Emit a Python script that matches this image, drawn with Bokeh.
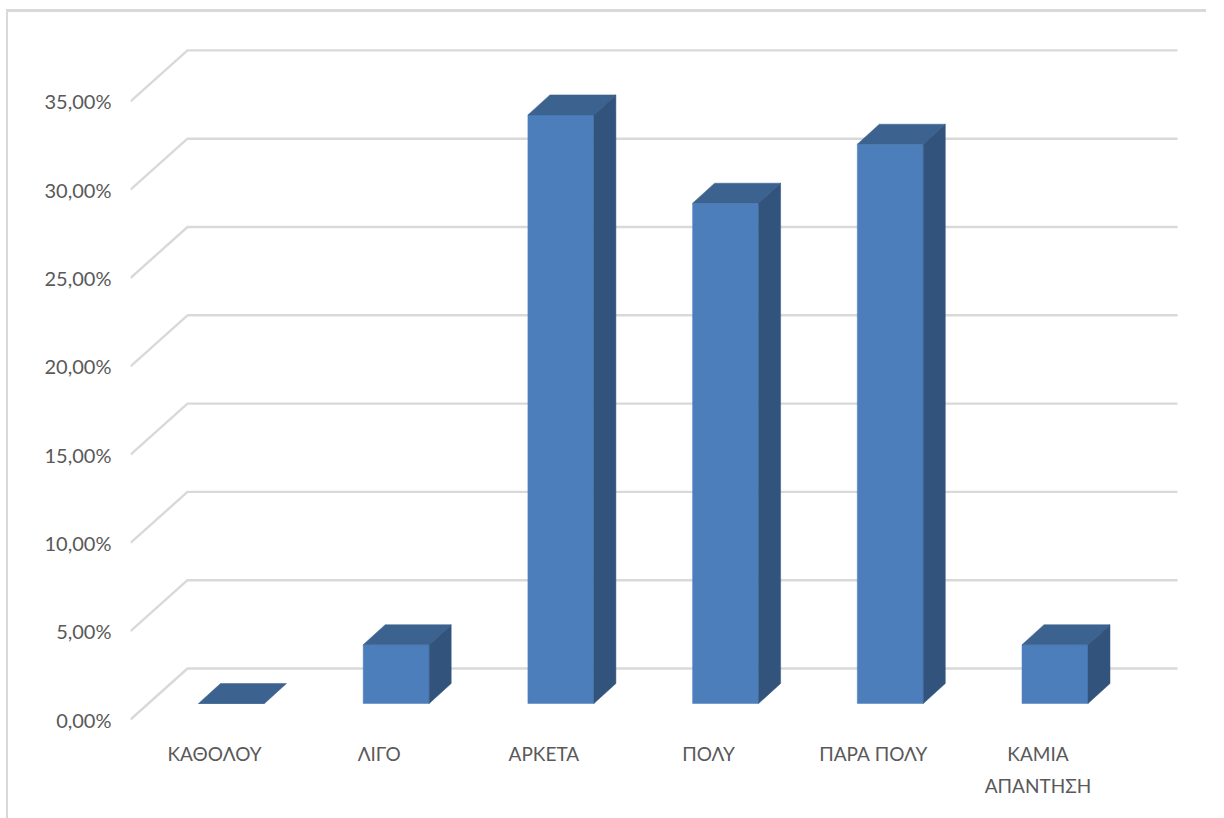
from bokeh.embed import file_html
from bokeh.resources import INLINE
from bokeh.models import Range1d, FixedTicker
from bokeh.plotting import figure

categories = ["ΚΑΘΟΛΟΥ", "ΛΙΓΟ", "ΑΡΚΕΤΑ", "ΠΟΛΎ", "ΠΑΡΑ ΠΟΛΎ", "ΚΑΜΙΑ\nΑΠΑΝΤΗΣΗ"]
values = [0.0, 3.33, 33.33, 28.33, 31.67, 3.33]
y_ticks = [0, 5, 10, 15, 20, 25, 30, 35]
y_labels = ["0,00%", "5,00%", "10,00%", "15,00%", "20,00%", "25,00%", "30,00%", "35,00%"]

GRID = "#d9d9d9"
TEXT = "#595959"
FRONT = "#4d7ebc"
TOP = "#3c628f"
SIDE = "#32547c"
FONT = "Lato"

PX_Y = 17.66   # pixels per percentage point
PX_X = 164.7   # pixels per category


p = figure(
    width=1200, height=790, output_backend="svg", toolbar_location=None,
    x_range=Range1d((130 - 214) / PX_X, (1208 - 214) / PX_X),
    y_range=Range1d((719 - 725) / PX_Y, (719 - 12) / PX_Y),
    min_border_left=122, min_border_right=0, min_border_top=0, min_border_bottom=77,
    outline_line_color=None, border_fill_color="white", background_fill_color="white",
    styles={
        "margin-top": "12px",
        "margin-left": "8px",
        "box-shadow": f"0 16px 0 0 white, -2px 16px 0 0 {GRID}, -2px -3px 0 0 {GRID}",
    },
)
p.grid.visible = False

# 3-D wall grid: a diagonal on the floor side and a horizontal on the back wall
wall_dy = (719 - 668) / PX_Y
front_x = (130 - 214) / PX_X
back_x = (187 - 214) / PX_X
end_x = (1177 - 214) / PX_X
p.multi_line(
    xs=[[front_x, back_x, end_x] for _ in y_ticks],
    ys=[[v, v + wall_dy, v + wall_dy] for v in y_ticks],
    line_color=GRID, line_width=2.4,
)

# bars
bar_w = 66 / PX_X
off = 17 / PX_X
dx = 22 / PX_X
dy = 20 / PX_Y
base = (719 - 703) / PX_Y
lefts = [i + off - bar_w / 2 for i in range(len(values))]
rights = [l + bar_w for l in lefts]
tops = [base + v for v in values]

p.quad(left=lefts, right=rights, bottom=base, top=tops, fill_color=FRONT, line_color=FRONT, line_width=0.5)
p.patches(
    xs=[[l, r, r + dx, l + dx] for l, r in zip(lefts, rights)],
    ys=[[t, t, t + dy, t + dy] for t in tops],
    fill_color=TOP, line_color=TOP, line_width=0.5,
)
p.patches(
    xs=[[r, r + dx, r + dx, r] for r, v in zip(rights, values) if v > 0],
    ys=[[base, base + dy, t + dy, t] for t, v in zip(tops, values) if v > 0],
    fill_color=SIDE, line_color=SIDE, line_width=0.5,
)

yax = p.yaxis[0]
yax.ticker = FixedTicker(ticks=y_ticks)
yax.major_label_overrides = dict(zip(y_ticks, y_labels))
yax.major_tick_line_color = None
yax.minor_tick_line_color = None
yax.axis_line_color = None
yax.major_tick_in = 0
yax.major_tick_out = 0
yax.major_label_standoff = 19
yax.major_label_text_font = FONT
yax.major_label_text_font_size = "20px"
yax.major_label_text_color = TEXT

xax = p.xaxis[0]
xax.ticker = FixedTicker(ticks=list(range(len(categories))))
xax.major_label_overrides = dict(enumerate(categories))
xax.major_tick_line_color = None
xax.minor_tick_line_color = None
xax.axis_line_color = None
xax.major_tick_in = 0
xax.major_tick_out = 0
xax.major_label_standoff = 16
xax.major_label_text_font = FONT
xax.major_label_text_font_size = "19px"
xax.major_label_text_line_height = 1.4
xax.major_label_text_color = TEXT

open("out.html", "w").write(file_html(p, INLINE))
